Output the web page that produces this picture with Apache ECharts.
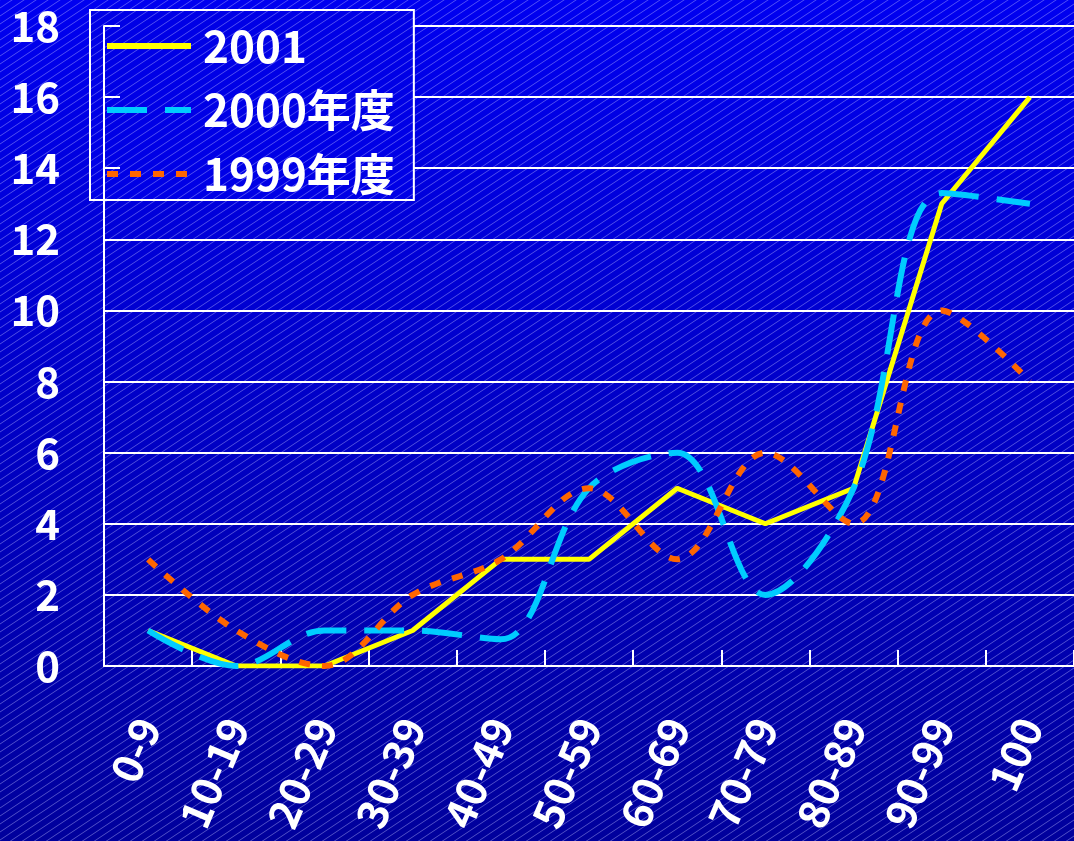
<!DOCTYPE html>
<html>
<head>
<meta charset="utf-8">
<script src="https://cdn.jsdelivr.net/npm/echarts@6/dist/echarts.min.js"></script>
<style>
html,body{margin:0;padding:0;background:#0000c4;overflow:hidden;}
#chart{width:1074px;height:841px;}
</style>
</head>
<body>
<div id="chart"></div>
<script>
// ---- data ----
const categories = ['0-9','10-19','20-29','30-39','40-49','50-59','60-69','70-79','80-89','90-99','100'];
const seriesNames = ['2001','2000年度','1999年度'];
const s2001 = [1, 0, 0, 1, 3, 3, 5, 4, 5, 13, 16];
const s2000 = [1, 0, 1, 1, 0.75, 5, 6, 2, 5, 13.3, 13];
const s1999 = [3, 1, 0, 2, 3, 5, 3, 6, 4, 10, 8];
const yMin = 0, yMax = 18, yStep = 2;

// ---- styling helpers ----
const FONT = '"Noto Sans CJK JP", "Noto Sans", sans-serif';
function makeTile(bg) {
  const c = document.createElement('canvas');
  c.width = 12; c.height = 8;
  const g = c.getContext('2d');
  if (bg) { g.fillStyle = bg; g.fillRect(0, 0, 12, 8); }
  g.strokeStyle = 'rgba(190,190,255,0.42)';
  g.lineWidth = 1;
  for (let i = -1; i <= 1; i++) {
    for (let j = -1; j <= 1; j++) {
      g.beginPath();
      g.moveTo(i * 12, j * 8 + 8);
      g.lineTo(i * 12 + 12, j * 8);
      g.stroke();
    }
  }
  return c;
}

const chart = echarts.init(document.getElementById('chart'), null, {renderer: 'canvas'});
const W = 1074, H = 841;

const option = {
  animation: false,
  backgroundColor: 'transparent',
  graphic: {
    elements: [
      {
        type: 'rect', silent: true, z: -100,
        shape: {x: 0, y: 0, width: W, height: H},
        style: {fill: new echarts.graphic.LinearGradient(0, 0, 0, 1, [
          {offset: 0, color: '#0000F0'},
          {offset: 1, color: '#00009C'}
        ])}
      },
      {
        type: 'rect', silent: true, z: -99,
        shape: {x: 0, y: 0, width: W, height: H},
        style: {fill: {image: makeTile(null), repeat: 'repeat'}}
      }
    ]
  },
  grid: {left: 104, top: 26, width: 975, height: 640, containLabel: false},
  legend: {
    orient: 'vertical',
    left: 90, top: 10,
    z: 5,
    padding: [14, 19, 4, 14],
    itemGap: 20,
    itemWidth: 84,
    itemHeight: 14,
    backgroundColor: {image: makeTile('#0000E6'), repeat: 'repeat'},
    borderColor: '#ffffff',
    borderWidth: 2,
    borderRadius: 0,
    itemStyle: {opacity: 0},
    lineStyle: {width: 6},
    textStyle: {
      color: '#ffffff', fontSize: 44, fontWeight: 'bold', fontFamily: FONT,
      lineHeight: 44, padding: [0, 0, 0, 7]
    },
    data: seriesNames
  },
  xAxis: {
    type: 'category',
    data: categories,
    boundaryGap: true,
    axisLine: {show: true, lineStyle: {color: '#ffffff', width: 2}},
    axisTick: {show: true, inside: true, length: 16, lineStyle: {color: '#ffffff', width: 2}},
    axisLabel: {
      color: '#ffffff', fontSize: 42, fontWeight: 'bold', fontFamily: FONT,
      rotate: 67, margin: 54, interval: 0
    },
    splitLine: {show: false}
  },
  yAxis: [
    {
      type: 'value', min: yMin, max: yMax, interval: yStep,
      z: 0,
      axisLine: {show: false},
      axisTick: {show: false},
      axisLabel: {color: '#ffffff', fontSize: 42, fontWeight: 'bold', fontFamily: FONT, margin: 44},
      splitLine: {show: true, lineStyle: {color: '#ffffff', width: 2}}
    },
    {
      type: 'value', min: yMin, max: yMax, interval: yStep,
      position: 'left', offset: 0, z: 6,
      axisLine: {show: true, lineStyle: {color: '#ffffff', width: 2}},
      axisTick: {show: true, inside: true, length: 16, lineStyle: {color: '#ffffff', width: 2}},
      axisLabel: {show: false},
      splitLine: {show: false}
    }
  ],
  series: [
    {
      name: seriesNames[0], type: 'line', data: s2001, yAxisIndex: 0,
      symbol: 'none', smooth: false,
      lineStyle: {color: '#FFFF00', width: 5, type: 'solid'},
      itemStyle: {color: '#FFFF00'}
    },
    {
      name: seriesNames[1], type: 'line', data: s2000, yAxisIndex: 0,
      symbol: 'none', smooth: 0.35,
      lineStyle: {color: '#00CCFF', width: 6, type: [40, 18], cap: 'butt'},
      itemStyle: {color: '#00CCFF'}
    },
    {
      name: seriesNames[2], type: 'line', data: s1999, yAxisIndex: 0,
      symbol: 'none', smooth: 0.35,
      lineStyle: {color: '#FF6600', width: 6, type: [11, 12], cap: 'butt'},
      itemStyle: {color: '#FF6600'}
    }
  ]
};
chart.setOption(option);
</script>
</body>
</html>
